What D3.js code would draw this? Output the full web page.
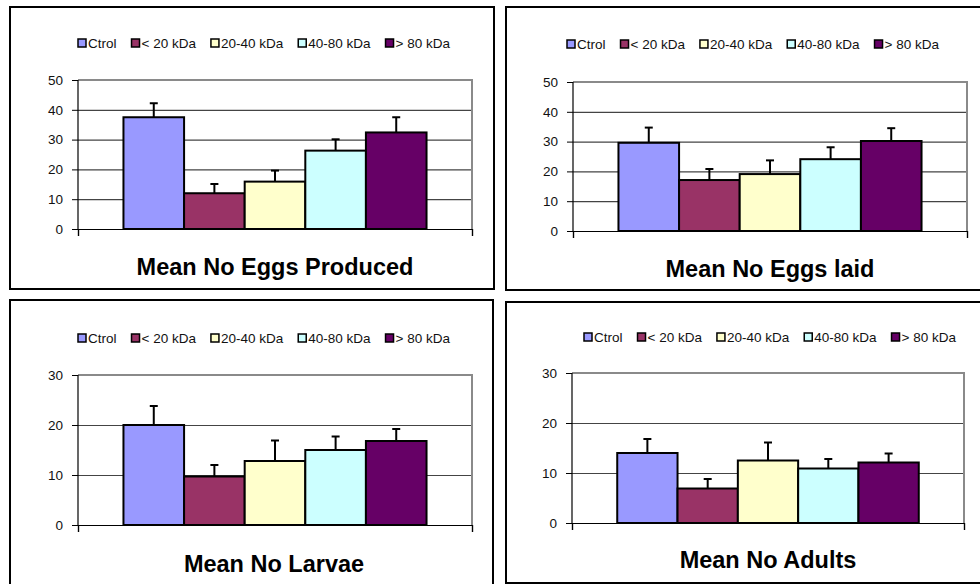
<!DOCTYPE html>
<html>
<head>
<meta charset="utf-8">
<script src="https://cdn.jsdelivr.net/npm/d3@7"></script>
<style>
  body { margin: 0; background: #fff; }
  svg { display: block; font-family: "Liberation Sans", Arial, sans-serif; }
</style>
</head>
<body>
<div id="vis"></div>
<script>
// data
const series = ["Ctrol", "< 20 kDa", "20-40 kDa", "40-80 kDa", "> 80 kDa"];
const titles = ["Mean No Eggs Produced", "Mean No Eggs laid", "Mean No Larvae", "Mean No Adults"];
const yMax = [50, 50, 30, 30];
const eggsProduced = [37.5, 12.0, 15.9, 26.3, 32.4];
const eggsProducedErr = [4.7, 3.1, 3.7, 3.8, 5.1];
const eggsLaid = [29.6, 17.1, 19.1, 24.1, 30.2];
const eggsLaidErr = [5.1, 3.7, 4.6, 4.0, 4.3];
const larvae = [20.0, 9.7, 12.8, 15.0, 16.8];
const larvaeErr = [3.8, 2.3, 4.1, 2.7, 2.4];
const adults = [14.0, 6.9, 12.5, 10.9, 12.1];
const adultsErr = [2.8, 1.9, 3.6, 1.9, 1.8];

const values = [eggsProduced, eggsLaid, larvae, adults];
const errors = [eggsProducedErr, eggsLaidErr, larvaeErr, adultsErr];

const colors = ["#9999ff", "#993366", "#ffffcc", "#ccffff", "#660066"];

// layout of the 4 boxes
const panels = [
  { box: [10, 7, 494, 289], plot: [78, 80, 472, 229], legX: 78, legY: 43, titleX: 275, titleY: 275 },
  { box: [506, 7, 995, 290], plot: [573, 82, 967, 231], legX: 567, legY: 44, titleX: 770, titleY: 277 },
  { box: [10, 300, 493, 600], plot: [78, 375, 472, 525], legX: 78, legY: 338, titleX: 274, titleY: 572 },
  { box: [506, 302, 995, 583], plot: [572, 373, 964, 523], legX: 584, legY: 337, titleX: 768, titleY: 568 }
];

const width = 980, height = 584;

const svg = d3.select("#vis").append("svg")
  .attr("width", width)
  .attr("height", height);

panels.forEach((p, k) => {
  const g = svg.append("g");
  const [px0, py0, px1, py1] = p.plot;

  // frame
  g.append("rect")
    .attr("x", p.box[0]).attr("y", p.box[1])
    .attr("width", p.box[2] - p.box[0]).attr("height", p.box[3] - p.box[1])
    .attr("fill", "none").attr("stroke", "#000").attr("stroke-width", 2);

  const y = d3.scaleLinear().domain([0, yMax[k]]).range([py1, py0]);
  const x = d3.scaleBand().domain(series).range([px0, px1]).paddingInner(0).paddingOuter(0.75);

  // gridlines
  g.append("g")
    .attr("transform", `translate(${px0},0)`)
    .call(d3.axisLeft(y).ticks(yMax[k] / 10).tickSize(-(px1 - px0)).tickFormat(""))
    .call(a => a.select(".domain").remove())
    .call(a => a.selectAll("line").attr("stroke", "#444").attr("stroke-width", 1.2));

  // plot area border (grey top & right)
  g.append("path")
    .attr("d", `M${px0},${py0}H${px1}V${py1}`)
    .attr("fill", "none").attr("stroke", "#8a8a8a").attr("stroke-width", 2);

  // y axis
  g.append("g")
    .attr("transform", `translate(${px0},0)`)
    .call(d3.axisLeft(y).ticks(yMax[k] / 10).tickSize(6).tickPadding(9))
    .call(a => a.select(".domain").remove())
    .call(a => a.selectAll("line").attr("stroke", "#000"))
    .call(a => a.selectAll("text").attr("font-size", 13.5).attr("font-family", "Liberation Sans, Arial, sans-serif").attr("fill", "#111"));

  g.append("line")
    .attr("x1", px0).attr("x2", px0).attr("y1", py0).attr("y2", py1)
    .attr("stroke", "#000").attr("stroke-width", 1.2);

  // x axis (one category, ticks at both ends)
  const xe = d3.scaleLinear().domain([0, 1]).range([px0, px1]);
  g.append("g")
    .attr("transform", `translate(0,${py1})`)
    .call(d3.axisBottom(xe).tickValues([0, 1]).tickSize(7).tickFormat(""))
    .call(a => a.select(".domain").attr("stroke", "#000").attr("stroke-width", 1.2))
    .call(a => a.selectAll("line").attr("stroke", "#000").attr("stroke-width", 1.2));

  // bars
  g.selectAll("rect.bar").data(values[k]).enter()
    .append("rect")
    .attr("class", "bar")
    .attr("x", (d, i) => x(series[i]))
    .attr("y", d => y(d))
    .attr("width", x.bandwidth())
    .attr("height", d => y(0) - y(d))
    .attr("fill", (d, i) => colors[i])
    .attr("stroke", "#000")
    .attr("stroke-width", 2);

  // error bars
  const err = g.selectAll("g.err").data(values[k]).enter().append("g").attr("class", "err");
  err.append("line")
    .attr("x1", (d, i) => x(series[i]) + x.bandwidth() / 2)
    .attr("x2", (d, i) => x(series[i]) + x.bandwidth() / 2)
    .attr("y1", d => y(d))
    .attr("y2", (d, i) => y(d + errors[k][i]))
    .attr("stroke", "#000").attr("stroke-width", 2);
  err.append("line")
    .attr("x1", (d, i) => x(series[i]) + x.bandwidth() / 2 - 4)
    .attr("x2", (d, i) => x(series[i]) + x.bandwidth() / 2 + 4)
    .attr("y1", (d, i) => y(d + errors[k][i]))
    .attr("y2", (d, i) => y(d + errors[k][i]))
    .attr("stroke", "#000").attr("stroke-width", 2);

  // legend
  let lx = p.legX;
  series.forEach((s, i) => {
    g.append("rect")
      .attr("x", lx).attr("y", p.legY - 4)
      .attr("width", 8).attr("height", 8)
      .attr("fill", colors[i]).attr("stroke", "#000").attr("stroke-width", 1.5);
    const t = g.append("text")
      .attr("x", lx + 10).attr("y", p.legY + 5)
      .attr("font-size", 13.5).attr("fill", "#111")
      .text(s);
    lx += 10 + t.node().getComputedTextLength() + 15;
  });

  // title
  g.append("text")
    .attr("x", p.titleX).attr("y", p.titleY)
    .attr("text-anchor", "middle")
    .attr("font-size", 23.5).attr("font-weight", "bold").attr("fill", "#000")
    .text(titles[k]);
});
</script>
</body>
</html>
